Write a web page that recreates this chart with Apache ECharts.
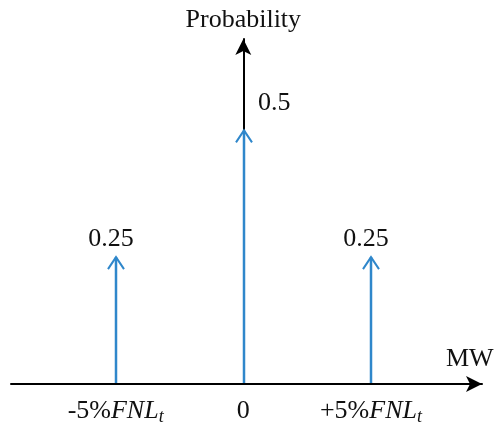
<!DOCTYPE html>
<html><head><meta charset="utf-8">
<script src="https://cdn.jsdelivr.net/npm/echarts@6/dist/echarts.min.js"></script>
<style>html,body{margin:0;padding:0;background:#fff}#c{width:497px;height:432px}</style>
</head><body><div id="c"></div>
<script>
const positions = [-1, 0, 1];
const probabilities = [0.25, 0.5, 0.25];
const tickValues = [-1, 0, 1];
const tickLabels = ['{a|-5%}{i|FNL}{s|t}', '{a|0}', '{a|+5%}{i|FNL}{s|t}'];
const xName = 'MW';
const yName = 'Probability';

const FONT = 'Liberation Serif';
const FS = 26;
const BLUE = '#2f87cb';
const chart = echarts.init(document.getElementById('c'));
chart.setOption({
  animation: false,
  grid: {left: 11, right: 15, top: 39, bottom: 48},
  xAxis: {
    type: 'value', min: -1.82, max: 1.87,
    splitLine: {show: false}, axisTick: {show: false},
    axisLine: {lineStyle: {color: '#000', width: 2}, symbol: ['none', 'arrow'], symbolSize: [12, 16]},
    axisLabel: {
      customValues: tickValues,
      margin: 12,
      formatter: v => tickLabels[tickValues.indexOf(v)],
      rich: {
        a: {fontFamily: FONT, fontSize: FS, color: '#111', lineHeight: 30, verticalAlign: 'middle'},
        i: {fontFamily: FONT, fontSize: FS, color: '#111', fontStyle: 'italic', lineHeight: 30, verticalAlign: 'middle'},
        s: {fontFamily: FONT, fontSize: 18, color: '#111', fontStyle: 'italic', lineHeight: 16, verticalAlign: 'bottom'}
      }
    },
    name: xName, nameLocation: 'end', nameGap: -36,
    nameTextStyle: {fontFamily: FONT, fontSize: FS, color: '#111', align: 'left', verticalAlign: 'bottom', padding: [0, 0, 12, 0]}
  },
  yAxis: {
    type: 'value', min: 0, max: 0.68,
    splitLine: {show: false}, axisTick: {show: false}, axisLabel: {show: false},
    axisLine: {lineStyle: {color: '#000', width: 2}, symbol: ['none', 'arrow'], symbolSize: [12, 16]},
    name: yName, nameLocation: 'end', nameGap: 6,
    nameTextStyle: {fontFamily: FONT, fontSize: FS, color: '#111', align: 'center'}
  },
  series: [{
    type: 'custom',
    data: positions.map((p, i) => [p, probabilities[i]]),
    renderItem(params, api) {
      const x = api.value(0), v = api.value(1);
      const b = api.coord([x, 0]);
      const t = api.coord([x, v]);
      let r = Math.round(b[0] * 2);
      const px = r % 2 === 0 ? r / 2 : (r + 1) / 2;
      const big = v >= 0.5;
      return {type: 'group', children: [
        {type: 'line', shape: {x1: px, y1: b[1] - 1, x2: px, y2: t[1]}, style: {stroke: BLUE, lineWidth: 2.5}},
        {type: 'polyline', shape: {points: [[px - 8, t[1] + 12], [px, t[1]], [px + 8, t[1] + 12]]}, style: {stroke: BLUE, lineWidth: 2, fill: null}},
        {type: 'text', style: {
          text: String(v),
          x: big ? px + 14 : px - 5,
          y: big ? t[1] - 27 : t[1] - 18,
          align: big ? 'left' : 'center', verticalAlign: 'middle',
          fontFamily: FONT, fontSize: FS, fill: '#111'
        }}
      ]};
    }
  }]
});
</script></body></html>
